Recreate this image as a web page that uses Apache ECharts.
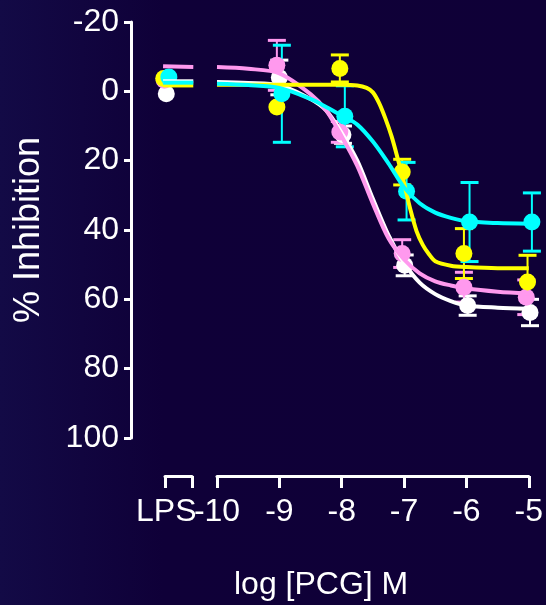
<!DOCTYPE html>
<html>
<head>
<meta charset="utf-8">
<script src="https://cdn.jsdelivr.net/npm/echarts@6/dist/echarts.min.js"></script>
<style>
  html, body { margin: 0; padding: 0; }
  #main { width: 546px; height: 605px; }
</style>
</head>
<body>
<div id="main"></div>
<script>
// concentration axis (log M) and the separate LPS control position
var xTicks = [-10, -9, -8, -7, -6, -5];
var lpsLabel = 'LPS';
var lpsPos = -10.8;

// fitted curves
var curveX = [-10, -9.5, -9, -8.5, -8.25, -8, -7.75, -7.5, -7.25, -7, -6.75, -6.5, -6.25, -6, -5.5, -5];
var whiteCurve = [-2.7, -2.4, -1.8, 2.2, 5.5, 12, 20, 31, 41.5, 49.5, 55.2, 58.5, 60.5, 61.8, 62.4, 62.7];
var pinkCurve = [-7.0, -6.5, -5.2, 0.8, 5.5, 13, 21.5, 32.4, 42.4, 48.5, 52.5, 54.8, 56, 56.9, 57.8, 58.3];
var cyanCurve = [-2.2, -1.8, -1.0, 2.2, 4.5, 7.0, 9.6, 14.5, 20.8, 27.7, 32.3, 35, 36.5, 37.5, 38, 38.2];
var yellowCurveX = [-10, -9, -8, -7.75, -7.6, -7.5, -7.4, -7.3, -7.2, -7.1, -7, -6.9, -6.8, -6.7, -6.6, -6.5, -6.25, -6, -5.5, -5];
var yellowCurve = [-1.9, -1.9, -1.9, -1.7, -1.0, 0.3, 3.4, 7.8, 13, 19.5, 26.5, 34, 40.3, 44.3, 47, 49, 50.3, 50.7, 51, 51];

// short curve pieces drawn over the LPS segment
var lpsCurveX = [-10.85, -10.38];
var whiteLpsCurve = [-2.9, -2.9];
var pinkLpsCurve = [-7.2, -7.0];
var yellowLpsCurve = [-1.7, -1.7];
var cyanLpsCurve = [-2.5, -2.5];

// mean +/- SEM points
var whiteX = [-9.0, -7.98, -6.99, -5.98, -4.98];
var whiteY = [-4.0, 12.5, 50.2, 61.8, 63.8];
var whiteErr = [5, 2.5, 3, 2.8, 3.8];
var pinkX = [-9.04, -8.03, -7.03, -6.04, -5.04];
var pinkY = [-7.5, 11.7, 46.8, 56.5, 59.4];
var pinkErr = [7.2, 3, 4, 4.3, 5];
var yellowX = [-9.04, -8.03, -7.03, -6.04, -5.02];
var yellowY = [4.5, -6.6, 23.3, 46.8, 55];
var yellowErr = [0, 3.9, 3.7, 7.2, 7.7];
var cyanX = [-8.96, -7.95, -6.96, -5.95, -4.95];
var cyanY = [0.7, 7.2, 28.8, 37.7, 37.7];
var cyanErr = [14, 8.8, 8.3, 11.4, 8.4];

// LPS control points
var lpsX = { white: -10.80, pink: -10.83, yellow: -10.84, cyan: -10.76 };
var lpsY = { white: 0.7, pink: -3.2, yellow: -3.7, cyan: -4.1 };

var colors = { white: '#ffffff', pink: '#ff99ee', yellow: '#ffff00', cyan: '#00ffff' };
var tickFont = "'Liberation Sans', Arial, sans-serif";
var titleFont = "'Liberation Sans', Arial, sans-serif";

function zip(xs, ys) {
  return xs.map(function (x, i) { return [x, ys[i]]; });
}
function zip3(xs, ys, es) {
  return xs.map(function (x, i) { return [x, ys[i], es[i]]; });
}

function errorBars(color) {
  return function (params, api) {
    var x = api.value(0), y = api.value(1), e = api.value(2);
    if (!e) return null;
    var top = api.coord([x, y - e]);
    var bot = api.coord([x, y + e]);
    var half = 9;
    return {
      type: 'group',
      children: [
        { type: 'line', shape: { x1: top[0], y1: top[1], x2: bot[0], y2: bot[1] }, style: { stroke: color, lineWidth: 2 } },
        { type: 'line', shape: { x1: top[0] - half, y1: top[1], x2: top[0] + half, y2: top[1] }, style: { stroke: color, lineWidth: 3 } },
        { type: 'line', shape: { x1: bot[0] - half, y1: bot[1], x2: bot[0] + half, y2: bot[1] }, style: { stroke: color, lineWidth: 3 } }
      ]
    };
  };
}

function groupSeries(name, curveXs, curve, lpsCurve, xs, ys, es) {
  var c = colors[name];
  return [
    { type: 'line', xAxisIndex: 1, yAxisIndex: 1, data: zip(curveXs, curve), smooth: 0.3,
      showSymbol: false, clip: false, lineStyle: { color: c, width: 4 } },
    { type: 'line', xAxisIndex: 0, yAxisIndex: 0, data: zip(lpsCurveX, lpsCurve),
      showSymbol: false, clip: false, lineStyle: { color: c, width: 4 } },
    { type: 'custom', xAxisIndex: 1, yAxisIndex: 1, data: zip3(xs, ys, es),
      renderItem: errorBars(c), clip: false },
    { type: 'scatter', xAxisIndex: 1, yAxisIndex: 1, data: zip(xs, ys), symbolSize: 17,
      clip: false, itemStyle: { color: c, opacity: 1 } },
    { type: 'scatter', xAxisIndex: 0, yAxisIndex: 0, data: [[lpsX[name], lpsY[name]]], symbolSize: 17,
      clip: false, itemStyle: { color: c, opacity: 1 } }
  ];
}

var yBase = {
  type: 'value', min: -20, max: 100, interval: 20, inverse: true,
  splitLine: { show: false }
};
var xLine = { show: true, onZero: false, lineStyle: { color: '#ffffff', width: 3 } };
var xNoLine = { show: false, onZero: false };

var chart = echarts.init(document.getElementById('main'), null, { renderer: 'canvas' });

var option = {
  backgroundColor: {
    type: 'linear', x: 0, y: 0, x2: 1, y2: 0,
    colorStops: [{ offset: 0, color: '#130a46' }, { offset: 0.3, color: '#0f0038' }, { offset: 1, color: '#0f0037' }]
  },
  animation: false,
  title: {
    text: 'log [PCG] M', left: 229, top: 564,
    textStyle: { color: '#ffffff', fontFamily: titleFont, fontSize: 32, fontWeight: 'normal' }
  },
  grid: [
    { left: 165, width: 27, top: 22, height: 416 },
    { left: 217, width: 317, top: 22, height: 416 }
  ],
  xAxis: [
    { type: 'value', gridIndex: 0, min: -10.82, max: -10.4, offset: 38,
      splitLine: { show: false }, axisLine: xLine,
      axisTick: { show: true, length: 12, customValues: [-10.82, -10.4], lineStyle: { color: '#ffffff', width: 3 } },
      axisLabel: { show: true, customValues: [lpsPos], formatter: function () { return lpsLabel; },
        color: '#ffffff', fontFamily: tickFont, fontSize: 32, margin: 20 } },
    { type: 'value', gridIndex: 1, min: -10, max: -5, interval: 1, offset: 38,
      splitLine: { show: false }, axisLine: xLine,
      axisTick: { show: true, length: 12, customValues: xTicks, lineStyle: { color: '#ffffff', width: 3 } },
      axisLabel: { show: true, customValues: xTicks, formatter: function (v) { return String(v); },
        color: '#ffffff', fontFamily: tickFont, fontSize: 32, margin: 20 } },
    { type: 'value', gridIndex: 0, min: -10.82, max: -10.4, offset: 38,
      splitLine: { show: false }, axisLine: xNoLine, axisLabel: { show: false },
      axisTick: { show: true, inside: true, length: 8, customValues: [-10.4], lineStyle: { color: '#ffffff', width: 3 } } },
    { type: 'value', gridIndex: 1, min: -10, max: -5, offset: 38,
      splitLine: { show: false }, axisLine: xNoLine, axisLabel: { show: false },
      axisTick: { show: true, inside: true, length: 8, customValues: [-10], lineStyle: { color: '#ffffff', width: 3 } } }
  ],
  yAxis: [
    Object.assign({}, yBase, {
      gridIndex: 0, offset: 34,
      name: '% Inhibition', nameLocation: 'middle', nameGap: 84, nameRotate: 90,
      nameTextStyle: { color: '#ffffff', fontFamily: titleFont, fontSize: 36 },
      axisLine: { show: true, onZero: false, lineStyle: { color: '#ffffff', width: 3 } },
      axisTick: { show: true, length: 7, lineStyle: { color: '#ffffff', width: 3 } },
      axisLabel: { color: '#ffffff', fontFamily: tickFont, fontSize: 32, margin: 12 }
    }),
    Object.assign({}, yBase, { gridIndex: 1, show: false })
  ],
  series: [].concat(
    groupSeries('white', curveX, whiteCurve, whiteLpsCurve, whiteX, whiteY, whiteErr),
    groupSeries('pink', curveX, pinkCurve, pinkLpsCurve, pinkX, pinkY, pinkErr),
    groupSeries('yellow', yellowCurveX, yellowCurve, yellowLpsCurve, yellowX, yellowY, yellowErr),
    groupSeries('cyan', curveX, cyanCurve, cyanLpsCurve, cyanX, cyanY, cyanErr)
  )
};

chart.setOption(option);
</script>
</body>
</html>
